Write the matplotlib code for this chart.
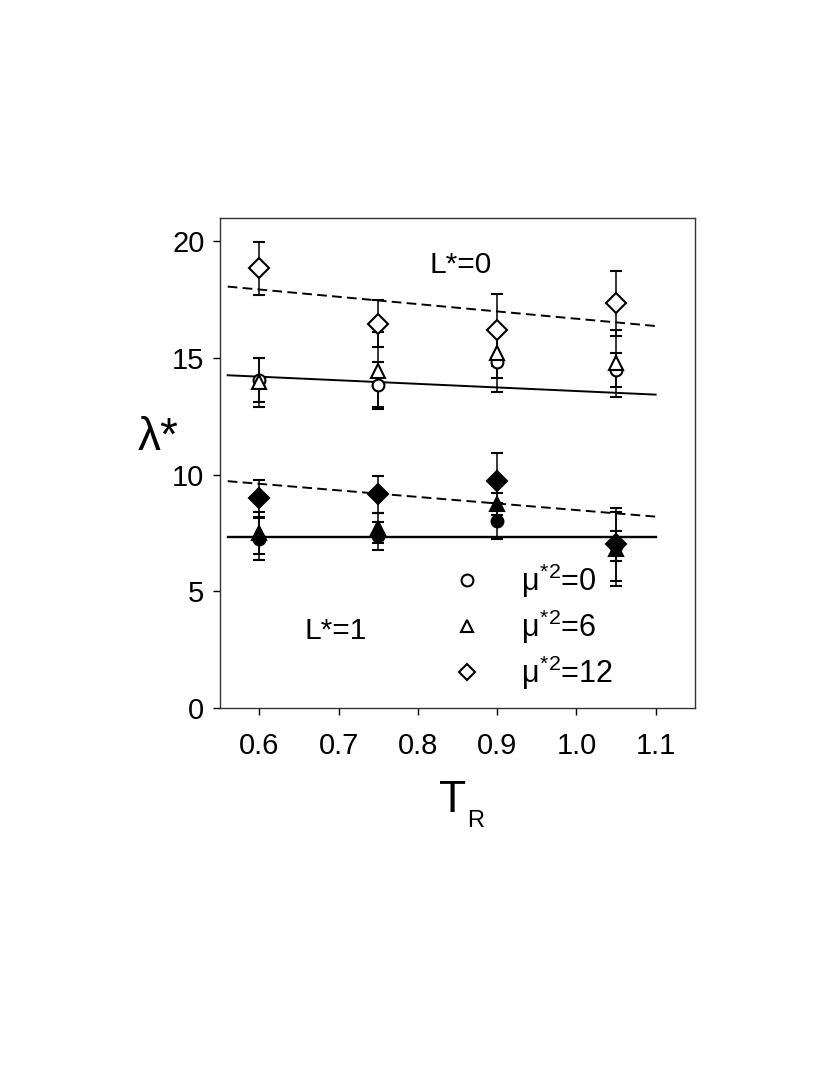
import matplotlib
matplotlib.use("Agg")
import matplotlib.pyplot as plt
from matplotlib.lines import Line2D

plt.rcParams['font.family'] = ['Liberation Sans', 'DejaVu Sans']
plt.rcParams['mathtext.fontset'] = 'custom'
plt.rcParams['mathtext.rm'] = 'Liberation Sans'
plt.rcParams['mathtext.it'] = 'Liberation Sans'
plt.rcParams['mathtext.bf'] = 'Liberation Sans'

# ---- data ----
T_R = [0.6, 0.75, 0.9, 1.05]

# L* = 0 (open symbols)
L0_mu0 = [14.05, 13.86, 14.84, 14.48]
L0_mu0_err = [0.95, 0.95, 1.30, 0.72]
L0_mu6 = [13.95, 14.45, 15.20, 14.77]
L0_mu6_err = [1.05, 1.65, 1.05, 1.45]
L0_mu12 = [18.84, 16.47, 16.20, 17.35]
L0_mu12_err = [1.15, 1.02, 1.54, 1.39]

# L* = 1 (filled symbols)
L1_mu0 = [7.25, 7.37, 8.01, 6.94]
L1_mu0_err = [0.90, 0.60, 0.78, 0.65]
L1_mu6 = [7.50, 7.72, 8.73, 6.80]
L1_mu6_err = [0.90, 0.64, 0.47, 1.58]
L1_mu12 = [8.99, 9.16, 9.73, 7.01]
L1_mu12_err = [0.80, 0.80, 1.20, 1.58]

# fitted lines (values at the line ends)
fit_x = [0.56, 1.10]
fit_L0_solid = [14.26, 13.43]
fit_L0_dashed = [18.06, 16.37]
fit_L1_solid = [7.33, 7.33]
fit_L1_dashed = [9.72, 8.20]

xticks = [0.6, 0.7, 0.8, 0.9, 1.0, 1.1]
xticklabels = ['0.6', '0.7', '0.8', '0.9', '1.0', '1.1']
yticks = [0, 5, 10, 15, 20]

legend_labels = [r'$\mu^{*2}$=0', r'$\mu^{*2}$=6', r'$\mu^{*2}$=12']

# ---- figure ----
W, H = 817, 1090
fig = plt.figure(figsize=(W / 100, H / 100), dpi=100)
ax = fig.add_axes([0.269, 0.3505, 0.582, 0.4495])

lw = 1.4
dash = (0, (5, 2.7))
ax.plot(fit_x, fit_L0_solid, color='black', lw=lw, zorder=2)
ax.plot(fit_x, fit_L0_dashed, color='black', lw=lw, ls=dash, zorder=2)
ax.plot(fit_x, fit_L1_solid, color='black', lw=lw + 0.3, zorder=2)
ax.plot(fit_x, fit_L1_dashed, color='black', lw=lw, ls=dash, zorder=2)

eb_kw = dict(ecolor='black', elinewidth=1.1, capsize=4.3, capthick=1.1,
             linestyle='none', zorder=3)
series = [
    (L0_mu0, L0_mu0_err, 'o', 8.5, 'white'),
    (L0_mu6, L0_mu6_err, '^', 9.5, 'white'),
    (L0_mu12, L0_mu12_err, 'D', 10, 'white'),
    (L1_mu0, L1_mu0_err, 'o', 8.5, 'black'),
    (L1_mu6, L1_mu6_err, '^', 9.5, 'black'),
    (L1_mu12, L1_mu12_err, 'D', 10, 'black'),
]
for y, e, m, ms, fc in series:
    ax.errorbar(T_R, y, yerr=e, marker=m, markersize=ms, mfc=fc,
                mec='black', mew=1.5, **eb_kw)

ax.set_xlim(0.55, 1.15)
ax.set_ylim(0, 21)
ax.set_xticks(xticks)
ax.set_xticklabels(xticklabels)
ax.set_yticks(yticks)
ax.tick_params(direction='out', length=5, width=1, labelsize=21,
               top=False, right=False)
ax.tick_params(axis='x', pad=12)
ax.tick_params(axis='y', pad=6)
for s in ax.spines.values():
    s.set_linewidth(1.0)
    s.set_color('#333333')

# axis titles
fig.text(138 / W, 1 - 438 / H, 'λ*', fontsize=33, ha='left', va='center')
fig.text(439 / W, 1 - 812 / H, 'T', fontsize=32, ha='left', va='baseline')
fig.text(467 / W, 1 - 827 / H, 'R', fontsize=17, ha='left', va='baseline')

ax.text(0.854, 19.0, 'L*=0', fontsize=21.5, ha='center', va='center')
ax.text(0.696, 3.3, 'L*=1', fontsize=21.5, ha='center', va='center')

handles = [Line2D([], [], marker=m, ls='none', mfc='white', mec='black',
                  mew=1.5, markersize=ms)
           for m, ms in [('o', 8.5), ('^', 8.5), ('D', 8.5)]]
ax.legend(handles, legend_labels, loc='lower left',
          bbox_to_anchor=(0.488, 0.033), frameon=False, fontsize=22,
          handletextpad=1.26, labelspacing=0.25, handlelength=1.0,
          borderpad=0.0, borderaxespad=0.0)

fig.savefig('out.png', dpi=100)
